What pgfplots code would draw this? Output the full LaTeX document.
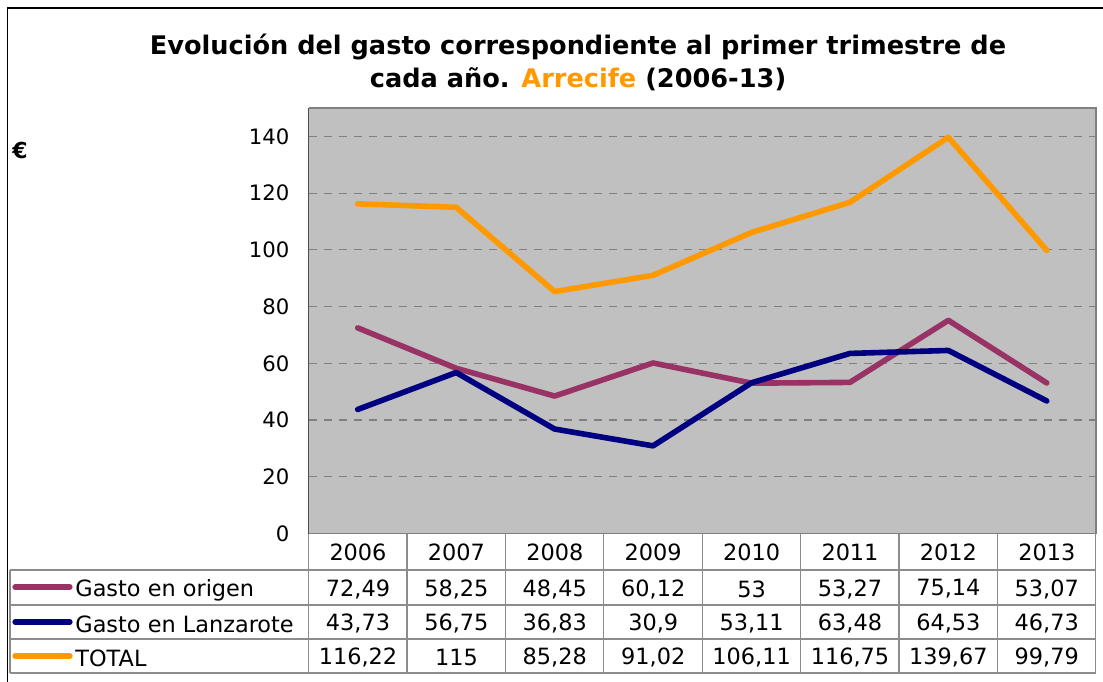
\documentclass[border=0pt]{standalone}
\usepackage{fontspec}
\setmainfont{DejaVu Sans}
\usepackage{pgfplots}
\pgfplotsset{compat=1.18}
\usepackage{pgfplotstable}
\definecolor{origen}{HTML}{993366}
\definecolor{lanza}{HTML}{000080}
\definecolor{total}{HTML}{FF9900}
\definecolor{plotbg}{HTML}{C0C0C0}
\definecolor{gridgray}{HTML}{808080}
\definecolor{tablegray}{HTML}{8C8C8C}

% primer trimestre, euros
\pgfplotstableread{
x origen lanza total
0 72.49 43.73 116.22
1 58.25 56.75 115
2 48.45 36.83 85.28
3 60.12 30.9 91.02
4 53 53.11 106.11
5 53.27 63.48 116.75
6 75.14 64.53 139.67
7 53.07 46.73 99.79
}\gasto

\newcommand{\tabfont}{\fontsize{11.2}{13}\selectfont}

\begin{document}
\begin{tikzpicture}
\useasboundingbox (0,0) rectangle (551.5pt,340.5pt);
\begin{axis}[
 at={(154.25pt,73.75pt)}, anchor=south west,
 scale only axis, width=393.75pt, height=212.75pt,
 xmin=-0.5, xmax=7.5, ymin=0, ymax=150,
 axis background/.style={fill=plotbg},
 axis line style={draw=none},
 xtick=\empty, ytick={0,20,...,140},
 major tick length=0pt,
 ymajorgrids,
 grid style={gridgray, dash pattern=on 4pt off 3.5pt, line width=0.6pt},
 yticklabel style={font=\fontsize{10.6}{12}\selectfont, xshift=-6pt},
 /pgf/number format/assume math mode=true,
 every axis plot/.append style={line width=2.8pt, line join=round, line cap=round},
]
\addplot[origen] table[x=x,y=origen]{\gasto};
\addplot[lanza] table[x=x,y=lanza]{\gasto};
\addplot[total] table[x=x,y=total]{\gasto};
\end{axis}

\begin{scope}[x=0.5pt,y=-0.5pt,shift={(0pt,340.5pt)}]
% marco exterior
\draw[black, line width=0.9pt] (7.5,700) -- (7.5,8) -- (1120,8);
% borde del area de trazado
\draw[gridgray, line width=0.9pt] (308.5,108) -- (1096,108) -- (1096,533.5);
\draw[black!70, line width=0.9pt] (308.5,533.5) -- (308.5,108);
\draw[gridgray, line width=0.9pt] (308.5,533.5) -- (1096,533.5);
% tabla de datos
\foreach \k in {0,...,8} \draw[tablegray, line width=0.6pt] (308.5+98.4*\k,533.5) -- (308.5+98.4*\k,673);
\draw[tablegray, line width=0.6pt] (10,570) -- (10,673);
\foreach \y in {570,605,639,673} \draw[tablegray, line width=0.6pt] (10,\y) -- (1096,\y);
\foreach \yr [count=\k from 0] in {2006,...,2013}
  \node[font=\tabfont] at (358+98.4*\k,552) {\yr};
\foreach \v [count=\k from 0] in {72{,}49,58{,}25,48{,}45,60{,}12,53,53{,}27,75{,}14,53{,}07}
  \node[font=\tabfont] at (358+98.4*\k,589) {\v};
\foreach \v [count=\k from 0] in {43{,}73,56{,}75,36{,}83,30{,}9,53{,}11,63{,}48,64{,}53,46{,}73}
  \node[font=\tabfont] at (358+98.4*\k,623) {\v};
\foreach \v [count=\k from 0] in {116{,}22,115,85{,}28,91{,}02,106{,}11,116{,}75,139{,}67,99{,}79}
  \node[font=\tabfont] at (358+98.4*\k,657) {\v};
% leyenda
\draw[origen, line width=2.6pt, line cap=round] (15,587) -- (70,587);
\draw[lanza, line width=2.6pt, line cap=round] (15,622) -- (70,622);
\draw[total, line width=2.6pt, line cap=round] (15,656) -- (70,656);
\node[font=\tabfont, anchor=west, inner sep=0pt] at (75,590) {Gasto en origen};
\node[font=\tabfont, anchor=west, inner sep=0pt] at (75,624) {Gasto en Lanzarote};
\node[font=\tabfont, anchor=west, inner sep=0pt] at (75,658) {TOTAL};
% unidad y titulo
\node[font=\bfseries\fontsize{11}{13}\selectfont] at (20,150) {€};
\node[font=\bfseries\fontsize{12.8}{16.5}\selectfont, align=center] at (578,62)
  {Evolución del gasto correspondiente al primer trimestre de\\cada año. \textcolor{total}{Arrecife} (2006-13)};
\end{scope}
\end{tikzpicture}
\end{document}
